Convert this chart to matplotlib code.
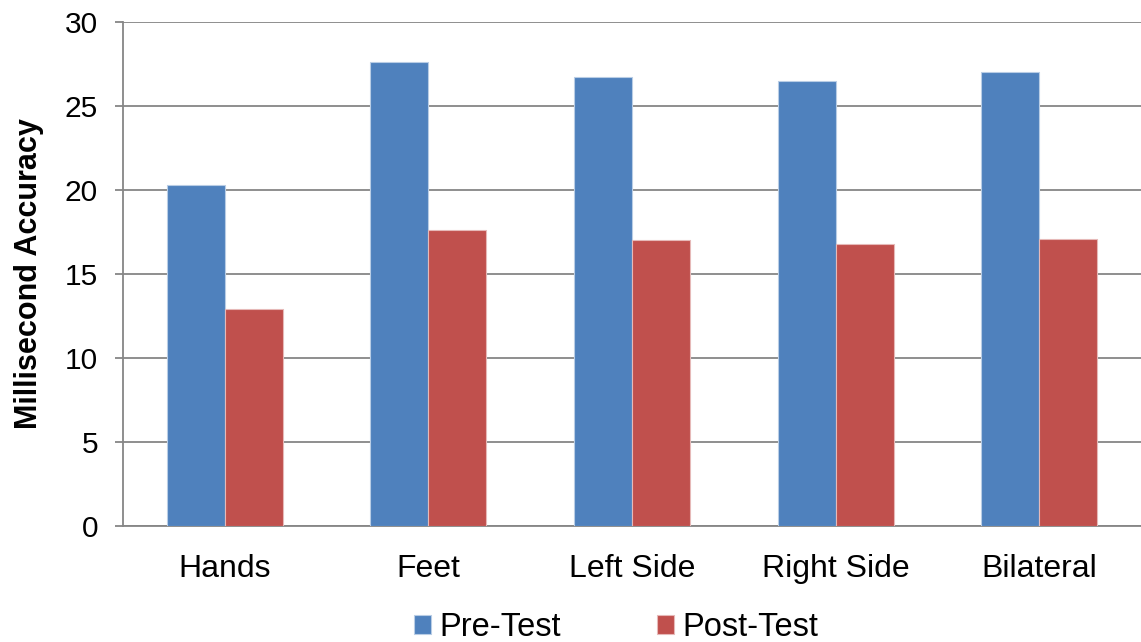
import numpy as np
import matplotlib.pyplot as plt

plt.rcParams['font.family'] = ['Liberation Sans', 'DejaVu Sans']

categories = ['Hands', 'Feet', 'Left Side', 'Right Side', 'Bilateral']
pre_test = [20.3, 27.6, 26.7, 26.5, 27.0]
post_test = [12.9, 17.6, 17.0, 16.8, 17.1]

fig = plt.figure(figsize=(11.41, 6.42), dpi=100)
ax = fig.add_axes([123/1141, 1-526/642, 1-123/1141, 504/642])

x = np.arange(len(categories))
w = 0.285
ax.bar(x - w/2, pre_test, w, color='#4F81BD', edgecolor='#B9CDE5', linewidth=0.8, label='Pre-Test', zorder=3)
ax.bar(x + w/2, post_test, w, color='#C0504D', edgecolor='#E6B9B8', linewidth=0.8, label='Post-Test', zorder=3)

ax.set_xlim(-0.5, len(categories) - 0.5)
ax.set_ylim(0, 30)
ax.set_yticks(range(0, 31, 5))
ax.set_xticks(x)
ax.set_xticklabels(categories)
ax.yaxis.grid(True, color='#868686', linewidth=1.3, zorder=0)
ax.set_axisbelow(True)

for s in ['top', 'right']:
    ax.spines[s].set_visible(False)
for s in ['left', 'bottom']:
    ax.spines[s].set_color('#868686')
    ax.spines[s].set_linewidth(1.3)

ax.tick_params(axis='y', length=6, color='#868686', width=1.3, labelsize=21.5, pad=12)
ax.tick_params(axis='x', length=0, labelsize=23, pad=20)
ax.set_ylabel('Millisecond Accuracy', fontsize=22, fontweight='bold', labelpad=15)

fig.legend(loc='center', bbox_to_anchor=(616/1141, 1-628/642), ncol=2, frameon=False,
           fontsize=23.5, handlelength=0.52, handleheight=0.52, columnspacing=2.95, handletextpad=0.25)

fig.savefig('out.png', dpi=100)
